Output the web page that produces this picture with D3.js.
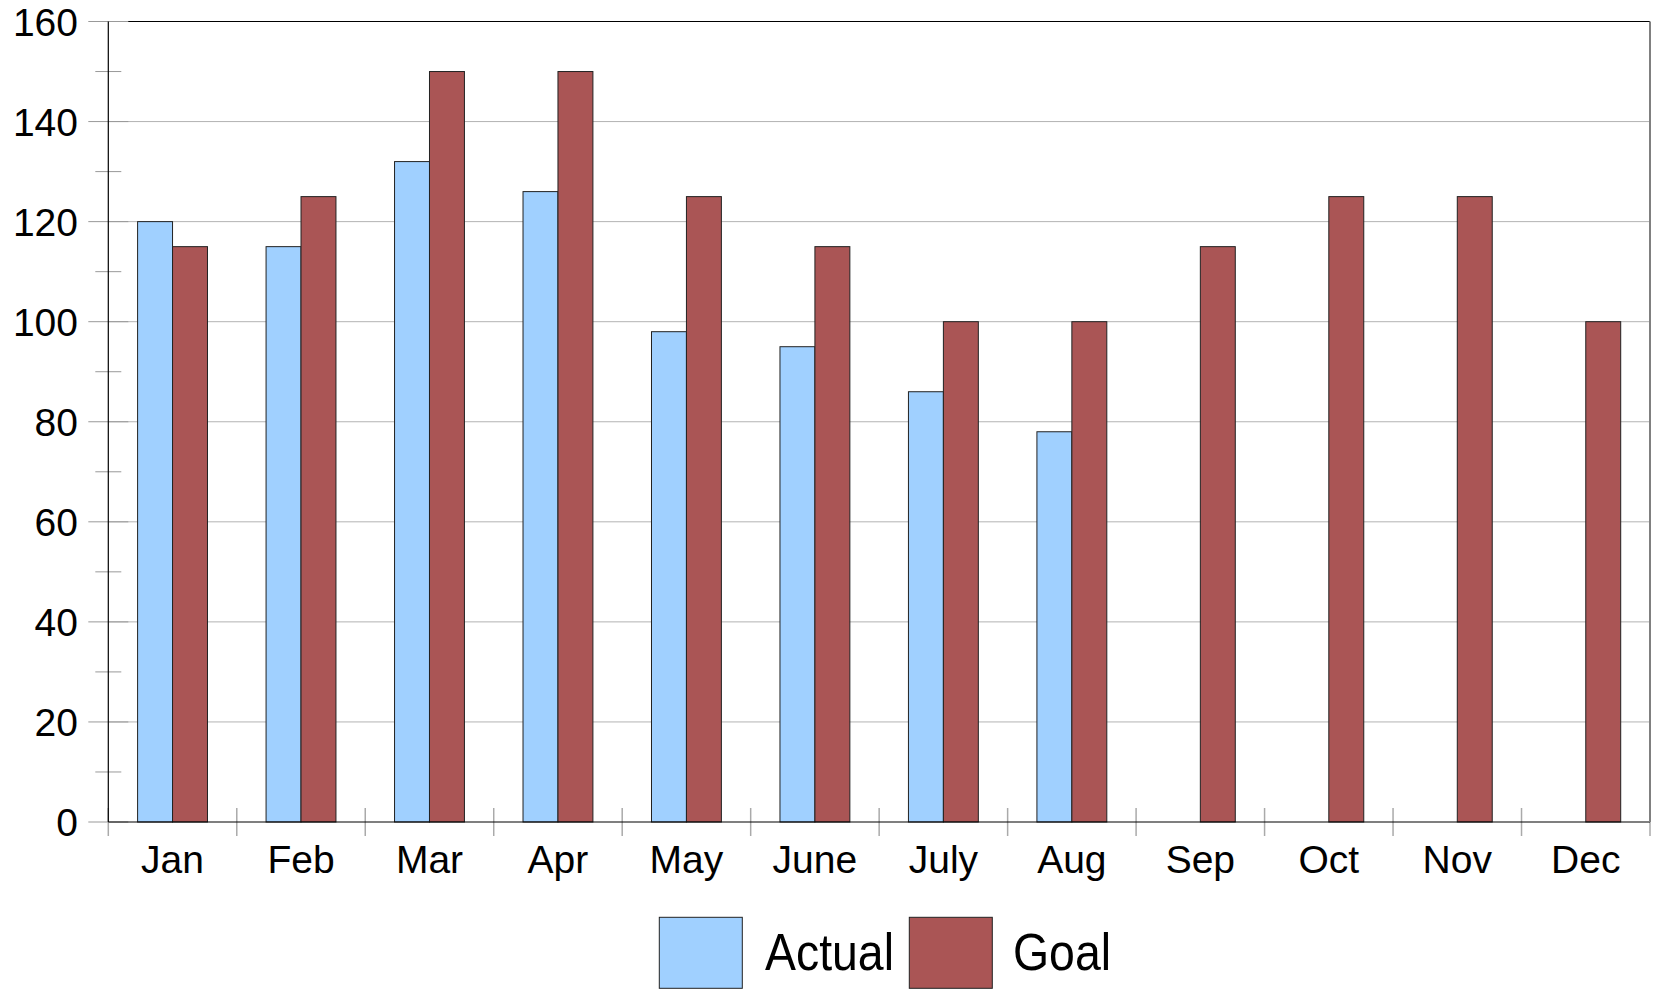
<!DOCTYPE html>
<html>
<head>
<meta charset="utf-8">
<script src="https://cdn.jsdelivr.net/npm/d3@7"></script>
<style>
html,body{margin:0;padding:0;background:#fff;}
svg{display:block;font-family:"Liberation Sans",Arial,sans-serif;}
</style>
</head>
<body>
<svg id="chart" width="1658" height="989"></svg>
<script>
const categories = ["Jan","Feb","Mar","Apr","May","June","July","Aug","Sep","Oct","Nov","Dec"];
const seriesNames = ["Actual","Goal"];
const actualValues = [120,115,132,126,98,95,86,78,null,null,null,null];
const goalValues = [115,125,150,150,125,115,100,100,115,125,125,100];
const yTicks = [0,20,40,60,80,100,120,140,160];
const yMinorTicks = [10,30,50,70,90,110,130,150];
const colors = ["#a0d0ff","#aa5555"];

const svg = d3.select("#chart");
const L = 108.3, R = 1650, T = 21.5, B = 822;

const x0 = d3.scaleBand().domain(categories).range([L, R]).padding(0);
const bw = x0.bandwidth();
const x1 = d3.scaleBand().domain(seriesNames).range([bw*0.228, bw*0.772]).padding(0);
const y = d3.scaleLinear().domain([0,160]).range([B, T]);

// gridlines
svg.append("g").selectAll("line").data(yTicks.filter(d=>d>0)).join("line")
  .attr("x1", L).attr("x2", R)
  .attr("y1", d=>y(d)).attr("y2", d=>y(d))
  .attr("stroke", "#b3b3b3").attr("stroke-width", 1);

// top border
svg.append("line").attr("x1", L).attr("x2", R).attr("y1", y(160)).attr("y2", y(160))
  .attr("stroke", "#000").attr("stroke-width", 1);

// bars
const data = categories.map((c,i)=>({c, vals:[actualValues[i], goalValues[i]]}));
const groups = svg.append("g").selectAll("g").data(data).join("g")
  .attr("transform", d=>`translate(${x0(d.c)},0)`);
groups.selectAll("rect").data(d=>d.vals.map((v,j)=>({v, s:seriesNames[j], j})).filter(e=>e.v!=null))
  .join("rect")
  .attr("x", e=>x1(e.s))
  .attr("width", x1.bandwidth())
  .attr("y", e=>y(e.v))
  .attr("height", e=>y(0)-y(e.v))
  .attr("fill", e=>colors[e.j])
  .attr("stroke", "#222").attr("stroke-width", 1);

// y axis ticks (major, both sides)
svg.append("g").selectAll("line").data(yTicks).join("line")
  .attr("x1", L-20).attr("x2", L+20)
  .attr("y1", d=>y(d)).attr("y2", d=>y(d))
  .attr("stroke", "#999").attr("stroke-width", 1);
svg.append("g").selectAll("line").data(yMinorTicks).join("line")
  .attr("x1", L-13).attr("x2", L+13)
  .attr("y1", d=>y(d)).attr("y2", d=>y(d))
  .attr("stroke", "#999").attr("stroke-width", 1);

// y labels
svg.append("g").selectAll("text").data(yTicks).join("text")
  .attr("x", 78).attr("y", d=>y(d)).attr("dy", "0.36em")
  .attr("text-anchor", "end").attr("font-size", 39).attr("fill", "#000")
  .text(d=>d);

// category ticks
const bounds = categories.map(c=>x0(c)).concat([R]);
svg.append("g").selectAll("line").data(bounds).join("line")
  .attr("x1", d=>d).attr("x2", d=>d)
  .attr("y1", B-14).attr("y2", B+14)
  .attr("stroke", "#aaa").attr("stroke-width", 1.5);

// axes lines
svg.append("line").attr("x1", L).attr("x2", L).attr("y1", T).attr("y2", B)
  .attr("stroke", "#000").attr("stroke-width", 1.2);
svg.append("line").attr("x1", L).attr("x2", R).attr("y1", B).attr("y2", B)
  .attr("stroke", "#000").attr("stroke-width", 1.2);
svg.append("line").attr("x1", R).attr("x2", R).attr("y1", T).attr("y2", B)
  .attr("stroke", "#808080").attr("stroke-width", 2);

// x labels
svg.append("g").selectAll("text").data(categories).join("text")
  .attr("x", d=>x0(d)+bw/2).attr("y", 873.3)
  .attr("text-anchor", "middle").attr("font-size", 39).attr("fill", "#000")
  .text(d=>d);

// legend
const legendItems = [
  {name: seriesNames[0], color: colors[0], bx: 659.3, tx: 765},
  {name: seriesNames[1], color: colors[1], bx: 909.3, tx: 1013}
];
const lg = svg.append("g");
lg.selectAll("rect").data(legendItems).join("rect")
  .attr("x", d=>d.bx).attr("y", 917.3).attr("width", 83).attr("height", 71)
  .attr("fill", d=>d.color).attr("stroke", "#222").attr("stroke-width", 1);
lg.selectAll("text").data(legendItems).join("text")
  .attr("transform", d=>`translate(${d.tx},970) scale(0.91,1)`)
  .attr("font-size", 51).attr("fill", "#000")
  .text(d=>d.name);
</script>
</body>
</html>
